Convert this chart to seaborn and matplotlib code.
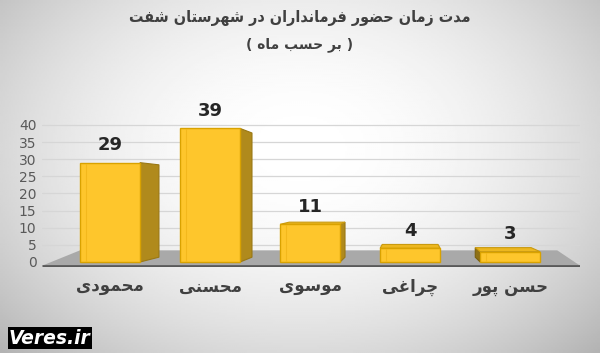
import numpy as np
import pandas as pd
import matplotlib
matplotlib.use("Agg")
import matplotlib.pyplot as plt
from matplotlib.patches import Polygon
import seaborn as sns

# ---- data ----
categories = ["محمودی", "محسنی", "موسوی", "چراغی", "حسن پور"]
months = [29, 39, 11, 4, 3]
y_ticks = [0, 5, 10, 15, 20, 25, 30, 35, 40]
title_text = "مدت زمان حضور فرمانداران در شهرستان شفت"
subtitle_text = "( بر حسب ماه )"
watermark = "Veres.ir"

# ---- minimal Persian shaping (presentation forms + RTL visual order) ----
FORMS = {
    'ا': ('\uFE8D', '\uFE8E', None, None),
    'ب': ('\uFE8F', '\uFE90', '\uFE91', '\uFE92'),
    'ت': ('\uFE95', '\uFE96', '\uFE97', '\uFE98'),
    'ح': ('\uFEA1', '\uFEA2', '\uFEA3', '\uFEA4'),
    'د': ('\uFEA9', '\uFEAA', None, None),
    'ر': ('\uFEAD', '\uFEAE', None, None),
    'ز': ('\uFEAF', '\uFEB0', None, None),
    'س': ('\uFEB1', '\uFEB2', '\uFEB3', '\uFEB4'),
    'ش': ('\uFEB5', '\uFEB6', '\uFEB7', '\uFEB8'),
    'ض': ('\uFEBD', '\uFEBE', '\uFEBF', '\uFEC0'),
    'غ': ('\uFECD', '\uFECE', '\uFECF', '\uFED0'),
    'ف': ('\uFED1', '\uFED2', '\uFED3', '\uFED4'),
    'م': ('\uFEE1', '\uFEE2', '\uFEE3', '\uFEE4'),
    'ن': ('\uFEE5', '\uFEE6', '\uFEE7', '\uFEE8'),
    'ه': ('\uFEE9', '\uFEEA', '\uFEEB', '\uFEEC'),
    'و': ('\uFEED', '\uFEEE', None, None),
    'ی': ('\uFBFC', '\uFBFD', '\uFBFE', '\uFBFF'),
    'چ': ('\uFB7A', '\uFB7B', '\uFB7C', '\uFB7D'),
    'پ': ('\uFB56', '\uFB57', '\uFB58', '\uFB59'),
}


def fa(text):
    out = []
    n = len(text)
    for i, c in enumerate(text):
        if c not in FORMS:
            out.append(c)
            continue
        iso, fin, ini, med = FORMS[c]
        prev = text[i - 1] if i > 0 else None
        nxt = text[i + 1] if i < n - 1 else None
        jp = prev in FORMS and FORMS[prev][2] is not None
        jn = ini is not None and nxt in FORMS
        if jp and jn:
            out.append(med)
        elif jp:
            out.append(fin)
        elif jn:
            out.append(ini)
        else:
            out.append(iso)
    s = ''.join(reversed(out))
    return s.translate(str.maketrans('()', ')('))


sns.set_theme(style="white")
plt.rcParams['font.family'] = ['DejaVu Sans']

W, H = 600, 353
fig = plt.figure(figsize=(W / 100, H / 100), dpi=100)

# background radial gradient
bg = fig.add_axes([0, 0, 1, 1], zorder=-10)
yy, xx = np.mgrid[0:1:200j, 0:1:300j]
r = np.sqrt(((xx - 0.5) / 0.62) ** 2 + ((yy - 0.42) / 0.75) ** 2)
val = np.clip(1.0 - 0.24 * r ** 2, 0, 1)
bg.imshow(val, cmap="gray", vmin=0, vmax=1, aspect="auto", extent=[0, 1, 1, 0])
bg.set_axis_off()

# main axes
ax = fig.add_axes([0.07, 0.2433, 0.897, 0.422])
ax.patch.set_alpha(0)

df = pd.DataFrame({"name": [fa(c) for c in categories], "value": months})
FRONT = "#FEC62C"
sns.barplot(data=df, x="name", y="value", ax=ax, color=FRONT, width=0.6,
            saturation=1, edgecolor="#D9A200", linewidth=1.0, zorder=4)

ax.set_xlim(-0.68, 4.7)
ax.set_ylim(-1.5, 42)
ax.set_yticks(y_ticks)
ax.set_yticklabels([str(t) for t in y_ticks])
ax.set_xlabel("")
ax.set_ylabel("")
for s in ax.spines.values():
    s.set_visible(False)
ax.tick_params(axis="both", length=0)
ax.tick_params(axis="y", labelsize=10, labelcolor="#595959", pad=4)
ax.tick_params(axis="x", labelsize=12, labelcolor="#404040", pad=8)
for lbl in ax.get_xticklabels():
    lbl.set_fontweight("bold")

# gridlines
ax.yaxis.grid(True, color="#d6d6d6", linewidth=0.9, zorder=0)
ax.set_axisbelow(True)

# floor
xl, xr = ax.get_xlim()
floor_front = -1.1
floor_back = 3.4
floor = Polygon([(xl, floor_front), (xr, floor_front), (xr - 0.23, floor_back), (xl + 0.38, floor_back)],
                closed=True, facecolor="#a9a9a9", edgecolor="none", zorder=1)
ax.add_patch(floor)
ax.plot([xl, xr], [floor_front, floor_front], color="#595959", lw=2.0, zorder=2,
        solid_capstyle="butt")

# pseudo-3D faces derived from the bar patches
VX, VY, K = 3.0, 20.0, 0.07


def back(x, y):
    return (x + (VX - x) * K, y + (VY - y) * K)


bars = [p for p in ax.patches if p is not floor]
for p in bars:
    x0 = p.get_x()
    x1 = x0 + p.get_width()
    y1 = p.get_height()
    if x1 < VX:
        side = [(x1, 0), (x1, y1), back(x1, y1), back(x1, 0)]
        ax.add_patch(Polygon(side, closed=True, facecolor="#B08A1C", edgecolor="#9A7814",
                             lw=0.8, zorder=3))
    elif x0 > VX:
        side = [(x0, 0), (x0, y1), back(x0, y1), back(x0, 0)]
        ax.add_patch(Polygon(side, closed=True, facecolor="#8E7016", edgecolor="#7A600F",
                             lw=0.8, zorder=3))
    if y1 < VY:
        top = [(x0, y1), (x1, y1), back(x1, y1), back(x0, y1)]
        ax.add_patch(Polygon(top, closed=True, facecolor="#EDB71F", edgecolor="#C99A10",
                             lw=0.8, zorder=3))
    # subtle inner highlight line on the front face
    ax.plot([x0 + 0.1 * (x1 - x0)] * 2, [0.3, y1 - 0.3], color="#F3B81C", lw=0.8, zorder=5)

# value labels
for p, v in zip(bars, months):
    ax.annotate(str(v), (p.get_x() + p.get_width() / 2, p.get_height()),
                xytext=(0, 6), textcoords="offset points", ha="center", va="bottom",
                fontsize=13, fontweight="bold", color="#262626", zorder=6)

# titles
fig.text(0.5, 1 - 18 / H, fa(title_text), ha="center", va="center",
         fontsize=11.5, fontweight="bold", fontstretch="condensed", color="#404040")
fig.text(0.5, 1 - 45 / H, fa(subtitle_text), ha="center", va="center",
         fontsize=10, fontweight="bold", color="#404040")

# watermark
fig.text(9 / W, 1 - 338 / H, watermark, ha="left", va="center", fontsize=13.5,
         fontweight="bold", fontstyle="italic", color="white",
         bbox=dict(boxstyle="square,pad=0.08", facecolor="black", edgecolor="none"))

fig.savefig("out.png", dpi=100)
